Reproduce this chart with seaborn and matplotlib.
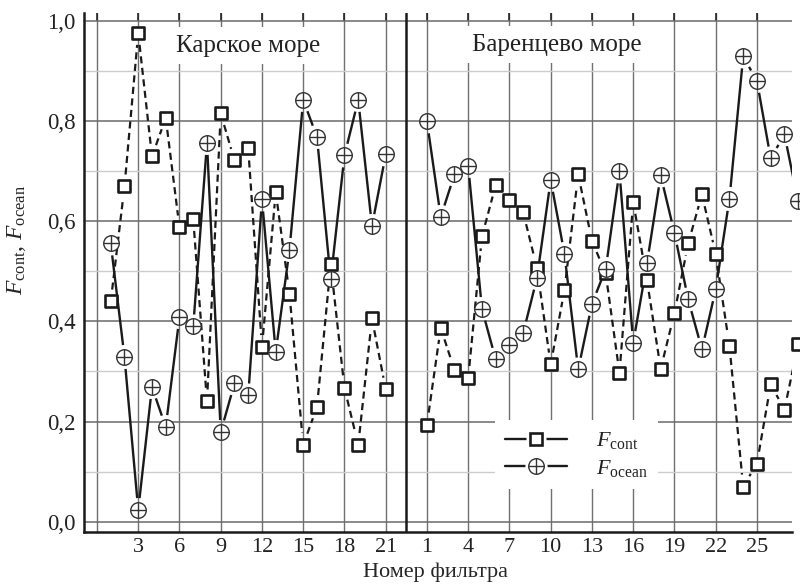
import numpy as np
import pandas as pd
import matplotlib
matplotlib.use("Agg")
import matplotlib.pyplot as plt
import seaborn as sns
from matplotlib.collections import LineCollection
from matplotlib.lines import Line2D
from matplotlib.legend_handler import HandlerTuple
from matplotlib.ticker import FixedLocator, FixedFormatter, FuncFormatter

# --- data ---
kara_n = list(range(1, 22))
kara_cont = [0.44, 0.67, 0.977, 0.73, 0.807, 0.588, 0.605, 0.24, 0.816, 0.722,
             0.746, 0.349, 0.659, 0.455, 0.153, 0.229, 0.514, 0.267, 0.153, 0.406,
             0.264]
kara_ocean = [0.556, 0.329, 0.023, 0.269, 0.189, 0.409, 0.39, 0.757, 0.179, 0.276,
              0.252, 0.644, 0.339, 0.543, 0.843, 0.769, 0.484, 0.732, 0.843, 0.591,
              0.734]

barents_n = list(range(1, 29))
barents_cont = [0.194, 0.387, 0.303, 0.287, 0.570, 0.673, 0.643, 0.618, 0.507, 0.314,
                0.463, 0.694, 0.561, 0.496, 0.297, 0.639, 0.483, 0.305, 0.417, 0.556,
                0.654, 0.535, 0.351, 0.07, 0.116, 0.274, 0.224, 0.354]
barents_ocean = [0.80, 0.609, 0.694, 0.711, 0.425, 0.324, 0.352, 0.377, 0.487, 0.683,
                 0.535, 0.304, 0.435, 0.505, 0.70, 0.357, 0.516, 0.692, 0.577, 0.444,
                 0.344, 0.464, 0.645, 0.93, 0.881, 0.726, 0.774, 0.64]

kara_ticks = [3, 6, 9, 12, 15, 18, 21]
barents_ticks = [1, 4, 7, 10, 13, 16, 19, 22, 25]
y_ticks = [0.0, 0.2, 0.4, 0.6, 0.8, 1.0]

sea_names = ["Карское море", "Баренцево море"]

SHIFT = 23          # Barents filters placed after the Kara block
SEPARATOR = 22.5

# long table for seaborn
rows = []
for n, c, o in zip(kara_n, kara_cont, kara_ocean):
    rows.append(("kara", n, c, o))
for n, c, o in zip(barents_n, barents_cont, barents_ocean):
    rows.append(("barents", n + SHIFT, c, o))
df = pd.DataFrame(rows, columns=["sea", "pos", "cont", "ocean"])

# --- style ---
sns.set_theme(style="white")
plt.rcParams["font.family"] = ["Liberation Serif", "DejaVu Serif"]
plt.rcParams["mathtext.fontset"] = "custom"
plt.rcParams["mathtext.rm"] = "Liberation Serif"
plt.rcParams["mathtext.it"] = "Liberation Serif:italic"
plt.rcParams["text.color"] = "#222222"

fig = plt.figure(figsize=(8, 5.87), dpi=100)
ax = fig.add_axes([0.105, 0.0945, 0.885, 0.8835])
ax.set_xlim(-0.945, 50.55)
ax.set_ylim(-0.02, 1.017)

# grid
ax.set_axisbelow(True)
ax.yaxis.set_major_locator(FixedLocator(y_ticks))
ax.yaxis.set_minor_locator(FixedLocator(np.arange(0.1, 1.0, 0.2)))
ax.yaxis.set_major_formatter(FuncFormatter(lambda v, p: f"{v:.1f}".replace(".", ",")))

major_x = [0] + kara_ticks + [t + SHIFT for t in barents_ticks]
major_lbl = [""] + [str(t) for t in kara_ticks] + [str(t) for t in barents_ticks]
ax.xaxis.set_major_locator(FixedLocator(major_x))
ax.xaxis.set_major_formatter(FixedFormatter(major_lbl))
ax.xaxis.set_minor_locator(FixedLocator(np.arange(1.5, 50, 3)))

ax.yaxis.grid(True, which="major", color="#6a6a6a", lw=1.1)
ax.yaxis.grid(True, which="minor", color="#cccccc", lw=1.0)
ax.xaxis.grid(True, which="major", color="#707070", lw=1.0)

for s in ["top", "right"]:
    ax.spines[s].set_visible(False)
for s in ["left", "bottom"]:
    ax.spines[s].set_linewidth(1.8)
    ax.spines[s].set_color("#1a1a1a")

ax.tick_params(axis="y", which="major", direction="in", length=9, width=1.2,
               labelsize=16.5, pad=6, colors="#1a1a1a", labelcolor="#222222")
ax.tick_params(axis="y", which="minor", direction="in", length=5, width=1.0,
               colors="#1a1a1a")
ax.tick_params(axis="x", which="major", direction="in", length=6, width=1.1,
               labelsize=16, pad=5, top=True, colors="#1a1a1a", labelcolor="#222222")
ax.tick_params(axis="x", which="minor", direction="in", length=4, width=1.0,
               top=False, colors="#1a1a1a")

ax.axvline(SEPARATOR, color="#1a1a1a", lw=1.8, zorder=2.5)

# --- lines with gaps around markers ---
GAP = 12  # px


def gapped(x, y):
    pts = ax.transData.transform(np.column_stack([x, y]))
    inv = ax.transData.inverted()
    segs = []
    for p, q in zip(pts[:-1], pts[1:]):
        d = q - p
        L = np.hypot(d[0], d[1])
        if L <= 2 * GAP + 1:
            continue
        u = d / L
        segs.append(inv.transform(np.array([p + u * GAP, q - u * GAP])))
    return segs


for sea in ["kara", "barents"]:
    sub = df[df.sea == sea]
    ax.add_collection(LineCollection(gapped(sub.pos, sub.cont), colors="#1a1a1a",
                                     linewidths=1.6, linestyles=(0, (3.2, 2.0)),
                                     zorder=3))
    ax.add_collection(LineCollection(gapped(sub.pos, sub.ocean), colors="#1a1a1a",
                                     linewidths=1.7, zorder=3))

# --- markers ---
sns.scatterplot(data=df, x="pos", y="cont", marker="s", s=80, color="white",
                edgecolor="#1a1a1a", linewidth=1.9, clip_on=False, zorder=4,
                ax=ax, legend=False)
sns.scatterplot(data=df, x="pos", y="ocean", marker="o", s=125, color="white",
                edgecolor="#333333", linewidth=1.0, clip_on=False, zorder=4,
                ax=ax, legend=False)
sns.scatterplot(data=df, x="pos", y="ocean", marker="+", s=125, color="#333333",
                linewidth=1.0, clip_on=False, zorder=5, ax=ax, legend=False)

# --- sea names ---
box = dict(facecolor="white", edgecolor="none", boxstyle="square,pad=0.3")
ax.text(11, 0.951, sea_names[0], fontsize=18, ha="center", va="center",
        bbox=box, zorder=3)
ax.text(33.45, 0.953, sea_names[1], fontsize=18, ha="center", va="center",
        bbox=box, zorder=3)

# --- labels ---
ax.set_xlabel("Номер фильтра", fontsize=16)
ax.xaxis.set_label_coords(0.497, -0.06)
ax.set_ylabel(r"$F_{\rm cont}$, $F_{\rm ocean}$", fontsize=17)
ax.yaxis.set_label_coords(-0.079, 0.562)

# --- legend ---
line = Line2D([], [], color="#1a1a1a", lw=1.7)
h_cont = (line,
          Line2D([], [], ls="none", marker="s", ms=15, mfc="white", mec="none"),
          Line2D([], [], ls="none", marker="s", ms=8.8, mfc="white",
                 mec="#1a1a1a", mew=1.9))
h_ocean = (line,
           Line2D([], [], ls="none", marker="o", ms=16, mfc="white", mec="none"),
           Line2D([], [], ls="none", marker="o", ms=11.2, mfc="white",
                  mec="#333333", mew=1.0),
           Line2D([], [], ls="none", marker="+", ms=11.2, mec="#333333", mew=1.0))
leg = ax.legend([h_cont, h_ocean], [r"$F_{\rm cont}$", r"$F_{\rm ocean}$"],
                handler_map={tuple: HandlerTuple(ndivide=1, pad=0)},
                loc="lower left", bbox_to_anchor=(0.5805, 0.082),
                borderaxespad=0, fontsize=16, handlelength=2.8,
                handletextpad=1.3, labelspacing=0.3, borderpad=0.45,
                frameon=True, fancybox=False, edgecolor="none",
                facecolor="white", framealpha=1)

fig.savefig("out.png", dpi=100)
